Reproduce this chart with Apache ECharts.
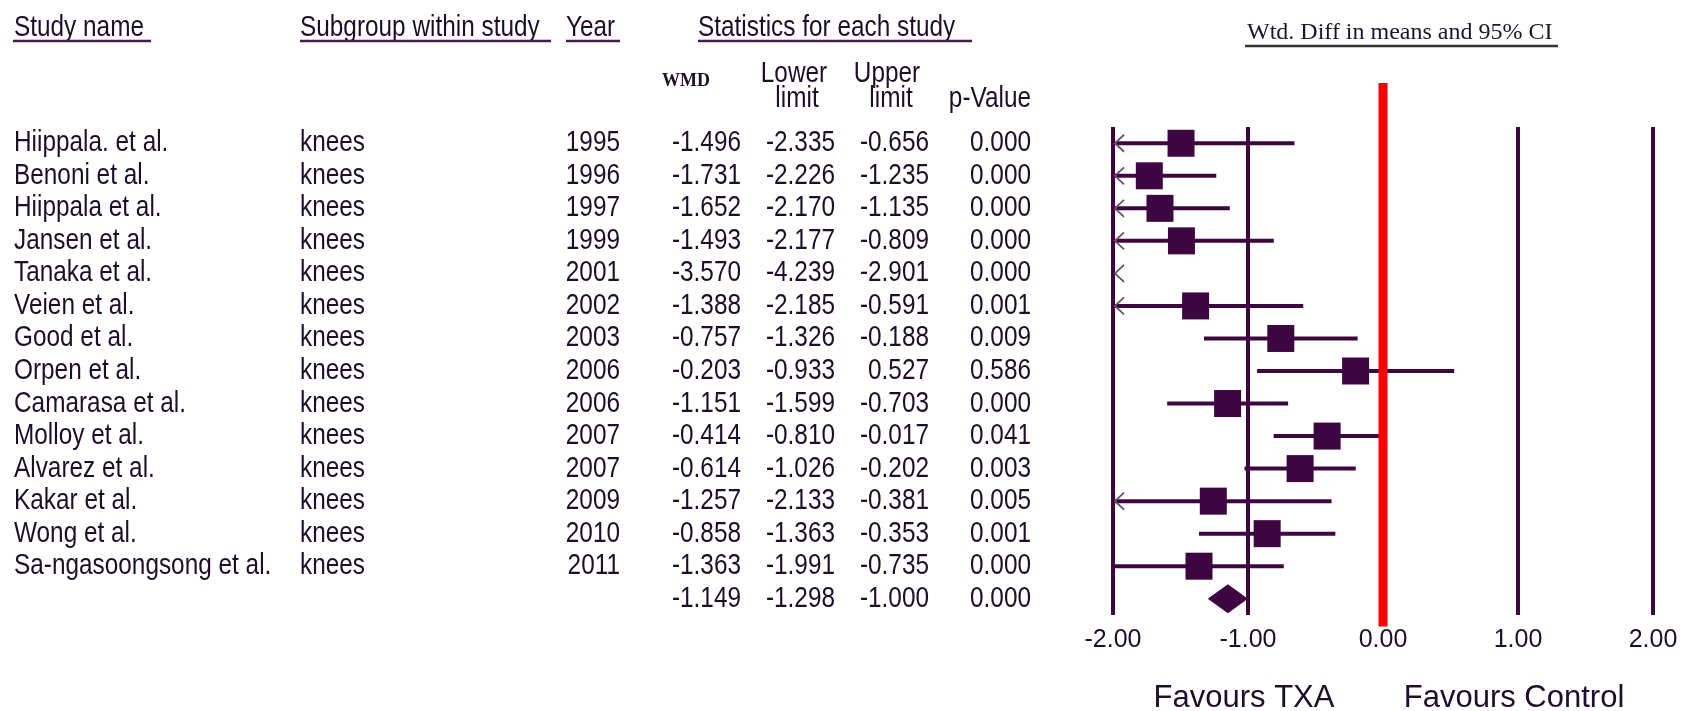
<!DOCTYPE html>
<html>
<head>
<meta charset="utf-8">
<script src="https://cdn.jsdelivr.net/npm/echarts@6/dist/echarts.min.js"></script>
<style>
  html, body { margin: 0; padding: 0; background: #ffffff; }
  #main { width: 1681px; height: 711px; }
</style>
</head>
<body>
<div id="main"></div>
<script>
// ---- study data -------------------------------------------------------
const studies = ['Hiippala. et al.', 'Benoni et al.', 'Hiippala et al.', 'Jansen et al.', 'Tanaka et al.',
  'Veien et al.', 'Good et al.', 'Orpen et al.', 'Camarasa et al.', 'Molloy et al.', 'Alvarez et al.',
  'Kakar et al.', 'Wong et al.', 'Sa-ngasoongsong et al.'];
const subgroups = ['knees', 'knees', 'knees', 'knees', 'knees', 'knees', 'knees',
  'knees', 'knees', 'knees', 'knees', 'knees', 'knees', 'knees'];
const years = [1995, 1996, 1997, 1999, 2001, 2002, 2003, 2006, 2006, 2007, 2007, 2009, 2010, 2011];
const wmd = [-1.496, -1.731, -1.652, -1.493, -3.570, -1.388, -0.757, -0.203, -1.151, -0.414, -0.614, -1.257, -0.858, -1.363];
const lowerLimit = [-2.335, -2.226, -2.170, -2.177, -4.239, -2.185, -1.326, -0.933, -1.599, -0.810, -1.026, -2.133, -1.363, -1.991];
const upperLimit = [-0.656, -1.235, -1.135, -0.809, -2.901, -0.591, -0.188, 0.527, -0.703, -0.017, -0.202, -0.381, -0.353, -0.735];
const pValues = [0.000, 0.000, 0.000, 0.000, 0.000, 0.001, 0.009, 0.586, 0.000, 0.041, 0.003, 0.005, 0.001, 0.000];

// pooled estimate
const pooledWmd = -1.149;
const pooledLower = -1.298;
const pooledUpper = -1.000;
const pooledP = 0.000;

// axis
const xMin = -2, xMax = 2, xInterval = 1;
const xTickLabels = ['-2.00', '-1.00', '0.00', '1.00', '2.00'];

// ---- styling ----------------------------------------------------------
const INK = '#3e0640';
const TEXT = '#1d0f2b';
const RULE = '#4a1a52';
const SANS = "'Liberation Sans', Arial, sans-serif";
const SERIF = "'Liberation Serif', 'Times New Roman', serif";
const ROW_FONT = 29;
const NARROW_SCALE = 0.84;   // condensed sans for the table

const chart = echarts.init(document.getElementById('main'));
const nRows = studies.length; // pooled row sits at index nRows

// condensed text element anchored at (x, y)
function narrowText(text, x, y, align, extra) {
  return {
    type: 'text', silent: true,
    x: x, y: y, scaleX: NARROW_SCALE,
    style: Object.assign({
      text: String(text), x: 0, y: 0,
      align: align, verticalAlign: 'middle',
      fill: TEXT, fontSize: ROW_FONT, fontFamily: SANS
    }, extra || {})
  };
}

// table columns: [x, align]
const cols = {
  name: [14, 'left'],
  sub: [300, 'left'],
  year: [620, 'right'],
  wmd: [741, 'right'],
  lo: [835, 'right'],
  hi: [929, 'right'],
  p: [1031, 'right']
};

function cell(text, col, y) {
  return narrowText(text, col[0], y, col[1]);
}

function renderTableRow(params, api) {
  const i = api.value(0);
  const y = api.coord([0, i])[1];
  if (i < nRows) {
    return {
      type: 'group',
      children: [
        cell(studies[i], cols.name, y),
        cell(subgroups[i], cols.sub, y),
        cell(years[i], cols.year, y),
        cell(wmd[i].toFixed(3), cols.wmd, y),
        cell(lowerLimit[i].toFixed(3), cols.lo, y),
        cell(upperLimit[i].toFixed(3), cols.hi, y),
        cell(pValues[i].toFixed(3), cols.p, y)
      ]
    };
  }
  return {
    type: 'group',
    children: [
      cell(pooledWmd.toFixed(3), cols.wmd, y),
      cell(pooledLower.toFixed(3), cols.lo, y),
      cell(pooledUpper.toFixed(3), cols.hi, y),
      cell(pooledP.toFixed(3), cols.p, y)
    ]
  };
}

// one study: CI line (clipped to the axis), arrow when it runs off the left, square at the mean
function renderStudy(params, api) {
  const i = api.value(0), m = api.value(1), lo = api.value(2), hi = api.value(3);
  const y = api.coord([0, i])[1];
  const children = [];
  const a = Math.max(lo, xMin), b = Math.min(hi, xMax);
  if (b > a) {
    const p1 = api.coord([a, i]), p2 = api.coord([b, i]);
    children.push({ type: 'line', shape: { x1: p1[0], y1: y, x2: p2[0], y2: y },
      style: { stroke: INK, lineWidth: 4 } });
  }
  if (lo < xMin) {
    const tip = api.coord([xMin, i])[0];
    children.push({ type: 'polyline',
      shape: { points: [[tip + 11, y - 8.5], [tip + 2, y], [tip + 11, y + 8.5]] },
      style: { stroke: '#6b4d6e', lineWidth: 1.8, fill: null } });
  }
  if (m >= xMin && m <= xMax) {
    const c = api.coord([m, i]);
    children.push({ type: 'rect', shape: { x: c[0] - 13.5, y: y - 13.5, width: 27, height: 27 },
      style: { fill: INK } });
  }
  return { type: 'group', children };
}

function renderPooled(params, api) {
  const i = api.value(0);
  const c = api.coord([api.value(1), i]);
  const l = api.coord([api.value(2), i]);
  const r = api.coord([api.value(3), i]);
  return { type: 'polygon',
    shape: { points: [[l[0], c[1]], [c[0], c[1] - 14.5], [r[0], c[1]], [c[0], c[1] + 14.5]] },
    style: { fill: INK } };
}

// no-effect reference line, reaching above and below the study rows
function renderNull(params, api) {
  const top = api.coord([0, -1.85]);
  const bottom = api.coord([0, 14.85]);
  return { type: 'line', shape: { x1: top[0], y1: top[1], x2: bottom[0], y2: bottom[1] },
    style: { stroke: '#ff0000', lineWidth: 9 } };
}

const studyData = wmd.map((m, i) => [i, m, lowerLimit[i], upperLimit[i]]);
const tableData = studies.map((s, i) => [i]).concat([[nRows]]);

function rule(x1, x2, y, color) {
  return { type: 'line', silent: true, shape: { x1: x1, y1: y, x2: x2, y2: y },
    style: { stroke: color || RULE, lineWidth: 2.5 } };
}
function plainText(text, x, y, align, extra) {
  return { type: 'text', silent: true,
    style: Object.assign({ text: text, x: x, y: y, align: align, verticalAlign: 'middle',
      fill: TEXT, fontFamily: SANS }, extra || {}) };
}

const option = {
  backgroundColor: '#ffffff',
  animation: false,
  grid: { left: 1113, right: 28, top: 127, height: 488, containLabel: false },
  xAxis: {
    type: 'value', min: xMin, max: xMax, interval: xInterval,
    axisLine: { show: false }, axisTick: { show: false },
    splitLine: { show: true, lineStyle: { color: INK, width: 4 } },
    axisLabel: {
      margin: 13, fontSize: 25, fontFamily: SANS, color: TEXT,
      formatter: v => xTickLabels[Math.round(v - xMin)]
    }
  },
  yAxis: {
    type: 'value', min: -0.5, max: nRows + 0.5, inverse: true,
    axisLine: { show: false }, axisTick: { show: false },
    axisLabel: { show: false }, splitLine: { show: false }
  },
  series: [
    { type: 'custom', name: 'table', renderItem: renderTableRow, data: tableData,
      clip: false, silent: true, encode: { y: 0 } },
    { type: 'custom', name: 'studies', renderItem: renderStudy, data: studyData,
      clip: false, encode: { x: [1, 2, 3], y: 0 } },
    { type: 'custom', name: 'pooled', renderItem: renderPooled,
      data: [[nRows, pooledWmd, pooledLower, pooledUpper]], clip: false, encode: { x: [1, 2, 3], y: 0 } },
    { type: 'custom', name: 'null line', renderItem: renderNull, data: [[0]], clip: false, z: 5, silent: true }
  ],
  graphic: [
    narrowText('Study name', 14, 28, 'left'), rule(13, 151, 41),
    narrowText('Subgroup within study', 300, 28, 'left'), rule(300, 551, 41),
    narrowText('Year', 566, 28, 'left'), rule(566, 620, 41),
    narrowText('Statistics for each study', 698, 28, 'left'), rule(698, 972, 41),
    plainText('Wtd. Diff in means and 95% CI', 1247, 33, 'left',
      { fontFamily: SERIF, fontSize: 24, fill: '#1b1530' }),
    rule(1245, 1558, 46, '#333333'),
    plainText('WMD', 686, 81, 'center', { fontFamily: SERIF, fontSize: 18, fontWeight: 'bold' }),
    narrowText('Lower', 794, 74, 'center'),
    narrowText('limit', 797, 99, 'center'),
    narrowText('Upper', 887, 74, 'center'),
    narrowText('limit', 891, 99, 'center'),
    narrowText('p-Value', 1031, 99, 'right'),
    plainText('Favours TXA', 1244, 698, 'center', { fontSize: 31 }),
    plainText('Favours Control', 1514, 698, 'center', { fontSize: 31 })
  ]
};

chart.setOption(option);
</script>
</body>
</html>
